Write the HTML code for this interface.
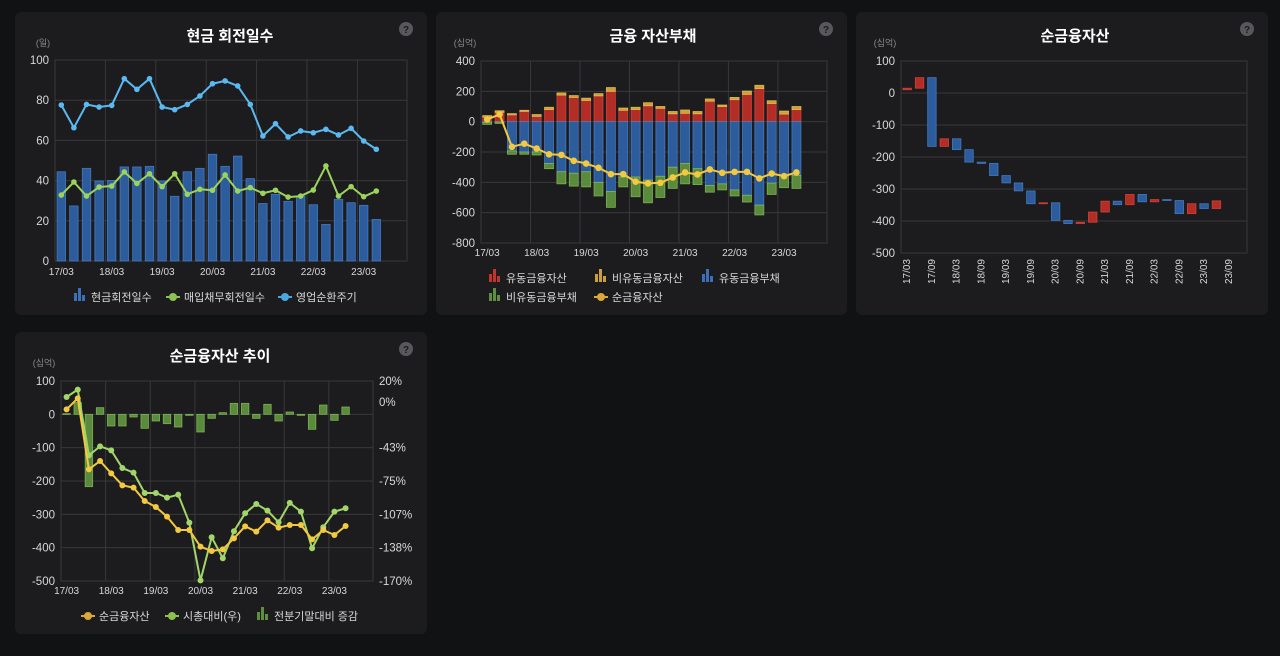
<!DOCTYPE html>
<html><head><meta charset="utf-8">
<style>
html,body{margin:0;padding:0;background:#111214;}
body{width:1280px;height:651px;overflow:hidden;font-family:"Liberation Sans","Noto Sans CJK KR",sans-serif;}
svg text{font-family:"Liberation Sans","Noto Sans CJK KR",sans-serif;}
</style></head>
<body>
<svg id="root" width="1280" height="651" xmlns="http://www.w3.org/2000/svg">
<rect x="0" y="0" width="1280" height="651" fill="#111214"/>
<g id="g1"></g>
<g id="g2"></g>
<g id="g3"></g>
<g id="g4"></g>
</svg>
<script>
// ---------- data ----------
const labels26 = ['17/03','17/06','17/09','17/12','18/03','18/06','18/09','18/12','19/03','19/06','19/09','19/12','20/03','20/06','20/09','20/12','21/03','21/06','21/09','21/12','22/03','22/06','22/09','22/12','23/03','23/06','23/09'];
// chart 1
const c1Bars = [44.4,27.4,46.1,39.8,40.1,46.8,46.8,47.1,39.8,32.2,44.4,46.1,53.1,47.1,52.2,41.0,28.6,33.2,29.7,32.3,28.0,18.2,30.7,29.0,27.7,20.7];
const c1Payable = [32.8,39.3,32.3,36.8,37.3,44.3,38.6,43.4,37.0,43.4,33.2,35.7,35.2,42.8,34.8,36.5,33.7,35.2,31.8,32.3,35.3,47.3,32.3,37.0,32.0,34.8];
const c1Cycle = [77.6,66.3,77.9,76.6,77.4,90.7,85.4,90.7,76.6,75.3,77.9,82.1,88.2,89.6,87.1,77.9,62.2,68.3,61.7,64.7,63.8,65.5,62.7,66.0,59.7,55.6];
const c1YTicks = [0,20,40,60,80,100];
// chart 2
const c2CurAssets = [30,62,45,68,35,80,175,160,140,170,200,75,80,105,88,52,55,52,135,100,145,180,218,120,50,80];
const c2NonCurAssets = [10,10,8,7,12,15,15,12,15,15,25,15,15,20,12,15,22,15,15,10,15,22,22,18,20,20];
const c2CurLiab = [-5,-3,-193,-200,-200,-276,-330,-340,-330,-400,-460,-365,-365,-385,-360,-300,-275,-310,-420,-410,-450,-485,-550,-405,-355,-355];
const c2NonCurLiab = [-13,-9,-22,-15,-20,-34,-80,-85,-100,-90,-105,-65,-130,-150,-140,-140,-135,-105,-45,-40,-40,-45,-65,-75,-80,-85];
const c2Net = [15,48,-166,-145,-177,-215,-219,-258,-276,-304,-346,-346,-396,-407,-403,-368,-335,-348,-315,-337,-331,-331,-374,-342,-359,-335];
const c2YTicks = [-800,-600,-400,-200,0,200,400];
// chart 3
const c3Start = 10;
const c3Net = [15,48,-167,-143,-177,-216,-220,-258,-281,-306,-346,-343,-398,-408,-404,-372,-338,-349,-317,-340,-333,-336,-377,-346,-361,-337];
const c3YTicks = [-500,-400,-300,-200,-100,0,100];
// chart 4
const c4Net = [15,48,-165,-140,-177,-213,-220,-260,-278,-307,-347,-347,-397,-410,-405,-372,-336,-352,-318,-340,-332,-332,-375,-347,-362,-335];
const c4Ratio = [4.8,11.8,-50.6,-42.1,-45.9,-62.7,-67.1,-86.4,-86.4,-90.8,-88.0,-114.6,-169.4,-128.4,-148.4,-122.7,-105.6,-96.8,-103.1,-114.2,-95.8,-104.1,-138.9,-118.9,-104.1,-100.9];
const c4Change = [2,35,-217,20,-35,-35,-8,-42,-20,-28,-38,-3,-53,-12,5,33,33,-12,30,-20,7,-3,-45,28,-18,22];
const c4YTicks = [-500,-400,-300,-200,-100,0,100];
const c4RTicks = [20,0,-43,-75,-107,-138,-170];

// ---------- helpers ----------
const NS='http://www.w3.org/2000/svg';
function mk(parent, tag, attrs, text){
  const e=document.createElementNS(NS,tag);
  for(const k in attrs) e.setAttribute(k,attrs[k]);
  if(text!==undefined) e.textContent=text;
  parent.appendChild(e);
  return e;
}
function lin(d0,d1,r0,r1){return v=>r0+(v-d0)*(r1-r0)/(d1-d0);}
const GRID='#38383b', TICK='#d8d8d8';

function panel(g,x,y,w,h,title,unit,tx,ux){
  const p=mk(g,'rect',{x:x,y:y,width:w,height:h,rx:6,fill:'#1c1c1e'});
  
  
  const t=mk(g,'text',{x:tx,y:y+29,fill:'#ffffff','font-size':15,'font-weight':'bold','text-anchor':'middle'},title);
  
  
  const u=mk(g,'text',{x:ux,y:y+34,fill:'#8a8a8e','font-size':9,'text-anchor':'middle'},unit);
  
  
  const hg=mk(g,'g',{});
  
  
  mk(hg,'circle',{cx:x+w-21,cy:y+17,r:7,fill:'#58585c'});
  mk(hg,'text',{x:x+w-21,y:y+21,fill:'#1c1c1e','font-size':10,'font-weight':'bold','text-anchor':'middle'},'?');
}
function yGrid(g,ticks,ys,x0,x1,lx){
  ticks.forEach(v=>{
    const l=mk(g,'line',{x1:x0,x2:x1,y1:ys(v),y2:ys(v),stroke:GRID,'stroke-width':1});
    
    
    const t=mk(g,'text',{x:lx,y:ys(v)+4,fill:TICK,'font-size':11.5,'text-anchor':'end'},String(v));
    
    
  });
}
function frame(g,x0,y0,x1,y1){
  const r=mk(g,'rect',{x:x0,y:y0,width:x1-x0,height:y1-y0,fill:'none',stroke:GRID,'stroke-width':1});
  
  
}
function vGrid(g,left,band,y0,y1,every,n){
  for(let i=0;i<n;i+=every){
    const x=left+i*band;
    const l=mk(g,'line',{x1:x,x2:x,y1:y0,y2:y1,stroke:GRID,'stroke-width':1});
    
    
  }
}
function xLabels(g,xs,ty,every,n){
  for(let i=0;i<n;i+=every){
    const t=mk(g,'text',{x:xs(i),y:ty,fill:TICK,'font-size':10,'text-anchor':'middle'},labels26[i]);
    
    
  }
}
function bar(g,xc,w,ya,yb,fill,stroke,name){
  const r=mk(g,'rect',{x:xc-w/2,y:Math.min(ya,yb),width:w,height:Math.max(0.8,Math.abs(yb-ya)),fill:fill,stroke:stroke,'stroke-width':0.8,'stroke-opacity':0.8});
  
  
  return r;
}
function line(g,vals,xs,ys,color,name,r){
  const pts=vals.map((v,i)=>xs(i)+','+ys(v)).join(' ');
  const pl=mk(g,'polyline',{points:pts,fill:'none',stroke:color,'stroke-width':2,'stroke-linejoin':'round'});
  
  
  vals.forEach((v,i)=>{
    const c=mk(g,'circle',{cx:xs(i),cy:ys(v),r:r||3,fill:color});
    
    
  });
}
function legendBarIcon(g,x,y,color){
  mk(g,'rect',{x:x,y:y-4,width:3,height:8,fill:color});
  mk(g,'rect',{x:x+4,y:y-9,width:3,height:13,fill:color});
  mk(g,'rect',{x:x+8,y:y-2,width:3,height:6,fill:color});
}
function legendLineIcon(g,x,y,color){
  mk(g,'line',{x1:x-1,x2:x+13,y1:y,y2:y,stroke:color,'stroke-width':2});
  mk(g,'circle',{cx:x+6,cy:y,r:4,fill:color});
}
function legendItem(g,x,y,kind,color,text){
  const li=mk(g,'g',{});
  
  
  if(kind==='bar') legendBarIcon(li,x,y,color); else legendLineIcon(li,x,y,color);
  mk(li,'text',{x:x+17,y:y+4,fill:'#d8d8d8','font-size':11},text);
}

// ---------- chart 1 ----------
(function(){
  const g=document.getElementById('g1');
  panel(g,15,12,412,303,'현금 회전일수','(일)',230,43);
  const L=55,R=407,T=60,B=261,band=12.6;
  const xs=i=>L+band/2+i*band, ys=lin(0,100,B,T);
  yGrid(g,c1YTicks,ys,L,R,49);
  vGrid(g,L,band,T,B,4,26);
  frame(g,L,T,R,B);
  c1Bars.forEach((v,i)=>bar(g,xs(i),8.5,ys(0),ys(v),'#2d5c9c','#4a86d4','cash-days-bar'));
  line(g,c1Payable,xs,ys,'#9cd35c','payable-days',2.8);
  line(g,c1Cycle,xs,ys,'#5bb9f1','operating-cycle',2.8);
  xLabels(g,xs,275,4,26);
  legendItem(g,74,297,'bar','#3b70b8','현금회전일수');
  legendItem(g,167,297,'line','#8cc152','매입채무회전일수');
  legendItem(g,279,297,'line','#4aa8e0','영업순환주기');
})();

// ---------- chart 2 ----------
(function(){
  const g=document.getElementById('g2');
  panel(g,436,12,411,303,'금융 자산부채','(십억)',653,465);
  const L=481,R=827,T=61,B=243,band=12.37;
  const xs=i=>L+band/2+i*band, ys=lin(-800,400,B,T);
  yGrid(g,c2YTicks,ys,L,R,475);
  vGrid(g,L,band,T,B,4,26);
  frame(g,L,T,R,B);
  c2CurAssets.forEach((v,i)=>{
    bar(g,xs(i),9,ys(0),ys(v),'#b22d26','#e8463a','current-fin-asset-bar');
    bar(g,xs(i),9,ys(v),ys(v+c2NonCurAssets[i]),'#c9a03a','#f2cc5a','noncurrent-fin-asset-bar');
  });
  c2CurLiab.forEach((v,i)=>{
    bar(g,xs(i),9,ys(0),ys(v),'#2d5c9c','#4a86d4','current-fin-liability-bar');
    bar(g,xs(i),9,ys(v),ys(v+c2NonCurLiab[i]),'#5a8a3c','#8cc45e','noncurrent-fin-liability-bar');
  });
  line(g,c2Net,xs,ys,'#f3c941','net-fin-assets',3.3);
  xLabels(g,xs,256,4,26);
  legendItem(g,489,278,'bar','#c0352c','유동금융자산');
  legendItem(g,595,278,'bar','#c9a03a','비유동금융자산');
  legendItem(g,702,278,'bar','#3b70b8','유동금융부채');
  legendItem(g,489,297,'bar','#5e8f40','비유동금융부채');
  legendItem(g,595,297,'line','#d9aa35','순금융자산');
})();

// ---------- chart 3 ----------
(function(){
  const g=document.getElementById('g3');
  panel(g,856,12,412,303,'순금융자산','(십억)',1075,885);
  const L=901,R=1247,T=61,B=253,band=12.37;
  const xs=i=>L+band/2+i*band, ys=lin(-500,100,B,T);
  yGrid(g,c3YTicks,ys,L,R,895);
  frame(g,L,T,R,B);
  let prev=c3Start;
  c3Net.forEach((v,i)=>{
    const up=v>=prev;
    bar(g,xs(i),8.5,ys(prev),ys(v),up?'#b22d26':'#2d5c9c',up?'#e8463a':'#4a86d4',up?'waterfall-increase-bar':'waterfall-decrease-bar');
    prev=v;
  });
  for(let i=0;i<27;i+=2){
    const x=xs(i)+3, y=B+6;
    const t=mk(g,'text',{x:x,y:y,fill:TICK,'font-size':10,'text-anchor':'end',transform:'rotate(-90 '+x+' '+y+')'},labels26[i]);
    
    
  }
})();

// ---------- chart 4 ----------
(function(){
  const g=document.getElementById('g4');
  panel(g,15,332,412,302,'순금융자산 추이','(십억)',220,44);
  const L=61,R=373,T=381,B=581,band=11.16;
  const xs=i=>L+band/2+i*band, ys=lin(-500,100,B,T), yr=lin(-170,20,B,T);
  yGrid(g,c4YTicks,ys,L,R,55);
  vGrid(g,L,band,T,B,4,26);
  frame(g,L,T,R,B);
  c4RTicks.forEach(v=>{
    const t=mk(g,'text',{x:379,y:yr(v)+4,fill:TICK,'font-size':11.5,'text-anchor':'start'},v+'%');
    
    
  });
  c4Change.forEach((v,i)=>bar(g,xs(i),7.5,ys(0),ys(v),'#5a8a3c','#8cc45e','period-change-bar'));
  line(g,c4Ratio,xs,yr,'#a2d66a','market-cap-ratio',3);
  line(g,c4Net,xs,ys,'#f3c941','net-fin-assets',3);
  xLabels(g,xs,594,4,26);
  legendItem(g,82,616,'line','#d9aa35','순금융자산');
  legendItem(g,166,616,'line','#8cc152','시총대비(우)');
  legendItem(g,257,616,'bar','#5e8f40','전분기말대비 증감');
})();
</script>
</body></html>
